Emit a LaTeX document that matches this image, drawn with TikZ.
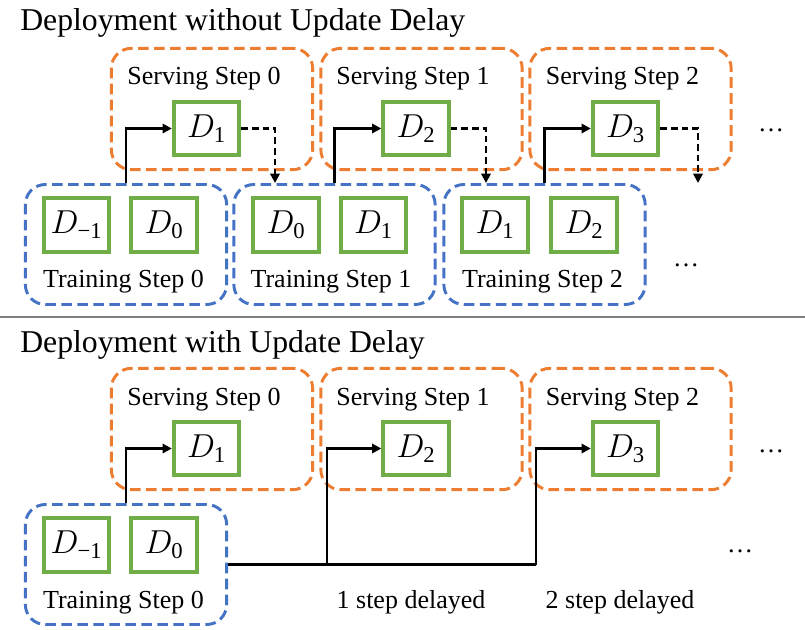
\documentclass[tikz,border=0pt]{standalone}
\usepackage{fontspec}
\setmainfont{Liberation Serif}
\usetikzlibrary{arrows.meta}
\newcommand{\Dsub}[1]{$D_{\hbox{\fontsize{17}{17}\selectfont #1}}$}
\definecolor{orng}{RGB}{237,125,49}
\definecolor{blu}{RGB}{68,114,196}
\definecolor{grn}{RGB}{112,173,71}
\definecolor{sepgray}{RGB}{128,128,128}
\begin{document}
\begin{tikzpicture}[x=0.75pt,y=-0.75pt,
  servebox/.style={draw=orng, line width=2.2pt, dash pattern=on 8pt off 4pt, rounded corners=15pt, minimum width=151pt, minimum height=91pt, inner sep=0pt},
  trainbox/.style={draw=blu, line width=2.2pt, dash pattern=on 8pt off 4pt, rounded corners=15pt, minimum width=151pt, minimum height=90pt, inner sep=0pt},
  dbox/.style={draw=grn, line width=3pt, minimum width=49pt, minimum height=40pt, inner sep=0pt, font=\fontsize{24}{28}\selectfont},
  lbl/.style={font=\fontsize{19.5}{23}\selectfont, inner sep=0pt, anchor=base},
  ttl/.style={font=\fontsize{23.8}{28}\selectfont, inner sep=0pt, anchor=base west},
  conn/.style={line width=2.2pt, -{Triangle[length=7pt,width=7pt]}},
  dconn/.style={line width=2.2pt, dash pattern=on 5pt off 3pt, -{Triangle[length=7pt,width=7pt]}},
  sep/.style={draw=sepgray, line width=2pt},
]
\useasboundingbox (0,0) rectangle (805,630);

% ---------- Top: without delay ----------
\node[ttl] (title1) at (20,31) {Deployment without Update Delay};

\node[servebox] (s0) at (212,109) {};
\node[servebox] (s1) at (421.5,109) {};
\node[servebox] (s2) at (630.5,109) {};
\node[lbl] (s0l) at (204,85) {Serving Step 0};
\node[lbl] (s1l) at (413,85) {Serving Step 1};
\node[lbl] (s2l) at (622.5,85) {Serving Step 2};
\node[dbox] (d1) at (206.5,128.5) {\Dsub{1}};
\node[dbox] (d2) at (416,128.5) {\Dsub{2}};
\node[dbox] (d3) at (625.5,128.5) {\Dsub{3}};

\node[trainbox] (t0) at (126,244.5) {};
\node[trainbox] (t1) at (334.5,244.5) {};
\node[trainbox] (t2) at (544.5,244.5) {};
\node[dbox] (t0a) at (76.5,225) {\Dsub{−1}};
\node[dbox] (t0b) at (164,225) {\Dsub{0}};
\node[dbox] (t1a) at (286,225) {\Dsub{0}};
\node[dbox] (t1b) at (373.5,225) {\Dsub{1}};
\node[dbox] (t2a) at (495,225) {\Dsub{1}};
\node[dbox] (t2b) at (584,225) {\Dsub{2}};
\node[lbl] (t0l) at (123.5,288) {Training Step 0};
\node[lbl] (t1l) at (331,288) {Training Step 1};
\node[lbl] (t2l) at (542.5,288) {Training Step 2};

\node[lbl] (dotsA) at (771,132) {…};
\node[lbl] (dotsB) at (686,267) {…};

\coordinate (e1) at (275,183);
\coordinate (e2) at (486,183);
\coordinate (e3) at (698,183);

\draw[conn] (t0.north) |- (d1.west);
\draw[conn] (t1.north) |- (d2.west);
\draw[conn] (t2.north) |- (d3.west);
\draw[dconn] (d1.east) -| (e1);
\draw[dconn] (d2.east) -| (e2);
\draw[dconn] (d3.east) -| (e3);

% separator
\coordinate (sepL) at (0,317);
\coordinate (sepR) at (805,317);
\draw[sep] (sepL) -- (sepR);

% ---------- Bottom: with delay ----------
\node[ttl] (title2) at (20,352) {Deployment with Update Delay};

\node[servebox] (bs0) at (212,429) {};
\node[servebox] (bs1) at (421.5,429) {};
\node[servebox] (bs2) at (630.5,429) {};
\node[lbl] (bs0l) at (204,405) {Serving Step 0};
\node[lbl] (bs1l) at (413,405) {Serving Step 1};
\node[lbl] (bs2l) at (622.5,405) {Serving Step 2};
\node[dbox] (bd1) at (206.5,448.5) {\Dsub{1}};
\node[dbox] (bd2) at (416,448.5) {\Dsub{2}};
\node[dbox] (bd3) at (625.5,448.5) {\Dsub{3}};

\node[trainbox] (bt0) at (126,564.5) {};
\node[dbox] (bt0a) at (76.5,545) {\Dsub{−1}};
\node[dbox] (bt0b) at (164,545) {\Dsub{0}};
\node[lbl] (bt0l) at (123.5,608) {Training Step 0};

\node[lbl] (del1) at (411,608) {1 step delayed};
\node[lbl] (del2) at (620,608) {2 step delayed};

\node[lbl] (dotsC) at (771,452) {…};
\node[lbl] (dotsD) at (740,552) {…};

\coordinate (j1) at (327,564.5);
\coordinate (j2) at (536,564.5);
\draw[line width=2.2pt] (bt0.east) -- (j2);
\draw[conn] (bt0.north) |- (bd1.west);
\draw[conn] (j1) |- (bd2.west);
\draw[conn] (j2) |- (bd3.west);
\end{tikzpicture}
\end{document}
